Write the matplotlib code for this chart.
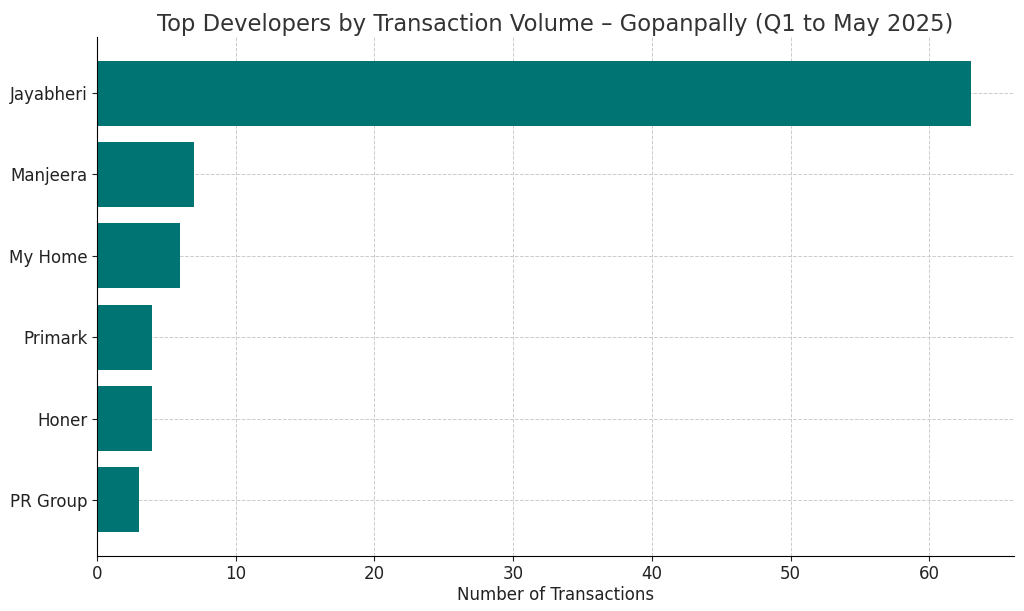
import matplotlib
matplotlib.use("Agg")
import matplotlib.pyplot as plt

developers = ["Jayabheri", "Manjeera", "My Home", "Primark", "Honer", "PR Group"]
transactions = [63, 7, 6, 4, 4, 3]

fig = plt.figure(figsize=(10.24, 6.11), dpi=100)
ax = fig.add_axes([97/1024, 1-556/611, (1014-97)/1024, (556-37)/611])
ax.barh(developers[::-1], transactions[::-1], color="#007373", height=0.8, zorder=2)
ax.set_xlim(0, 66.1)
ax.grid(True, linestyle="--", color="#cccccc", linewidth=0.7, zorder=0)
ax.spines["top"].set_visible(False)
ax.spines["right"].set_visible(False)
ax.tick_params(axis="y", labelsize=12, colors="#222222", pad=3)
ax.tick_params(axis="x", labelsize=12, colors="#222222", pad=3)
ax.set_xlabel("Number of Transactions", fontsize=12, color="#222222", labelpad=2)
ax.set_title("Top Developers by Transaction Volume – Gopanpally (Q1 to May 2025)", fontsize=16.3, color="#333333", pad=4)
fig.savefig("out.png", dpi=100)
